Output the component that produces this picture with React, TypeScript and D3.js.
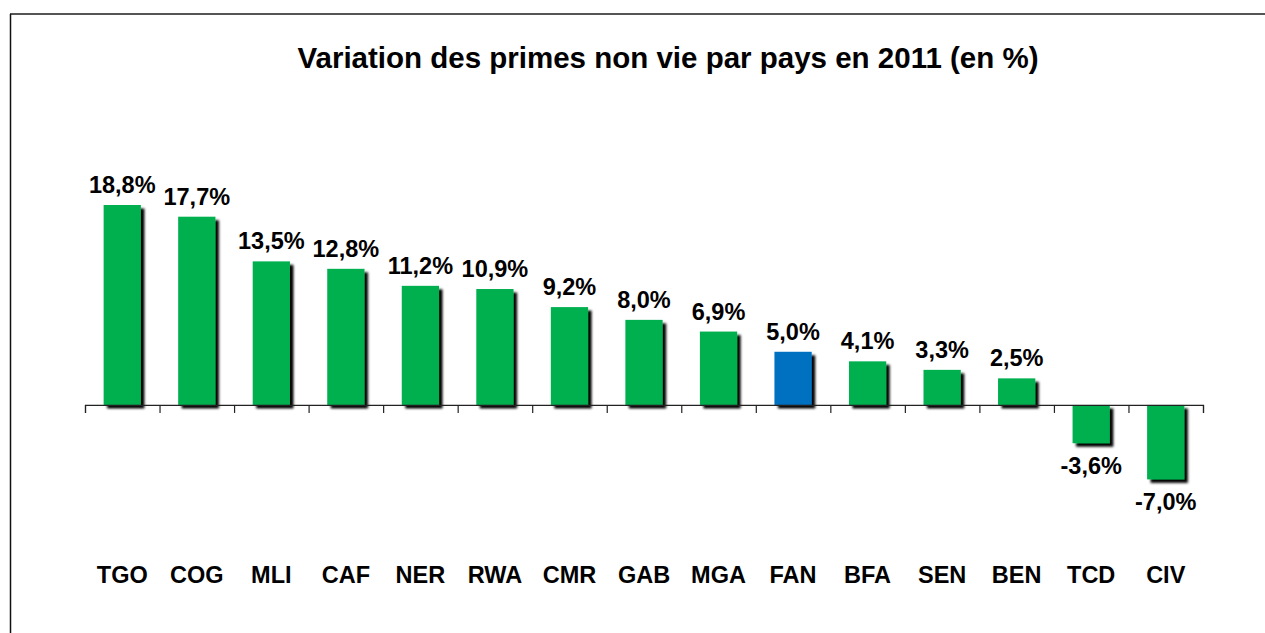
import { scaleBand, scaleLinear, select, axisBottom } from 'd3'
import { useEffect, useRef } from 'react'

const countries = ['TGO', 'COG', 'MLI', 'CAF', 'NER', 'RWA', 'CMR', 'GAB', 'MGA', 'FAN', 'BFA', 'SEN', 'BEN', 'TCD', 'CIV']
const values = [18.8, 17.7, 13.5, 12.8, 11.2, 10.9, 9.2, 8.0, 6.9, 5.0, 4.1, 3.3, 2.5, -3.6, -7.0]
const highlight = ['FAN']

const W = 1265
const H = 633
const green = '#00b050'
const blue = '#0070c0'
const font = '"Liberation Sans", Arial, sans-serif'

const fmt = (v: number) => v.toFixed(1).replace('.', ',') + '%'

export default function App() {
  const svgRef = useRef<SVGSVGElement | null>(null)

  useEffect(() => {
    if (!svgRef.current) return
    const svg = select(svgRef.current)
    svg.selectAll('*').remove()

    const x = scaleBand().domain(countries).range([85, 1203]).paddingInner(0.5).paddingOuter(0.25)
    // zero at y=405, ~10.63 px per point
    const y = scaleLinear().domain([-7, 18.8]).range([479.4, 205])

    const defs = svg.append('defs')
    defs.append('filter')
      .attr('id', 'shadow')
      .attr('x', '-20%').attr('y', '-20%').attr('width', '150%').attr('height', '150%')
      .append('feDropShadow')
      .attr('dx', 3.5).attr('dy', 3.5).attr('stdDeviation', 1)
      .attr('flood-color', '#000').attr('flood-opacity', 1)

    // frame
    svg.append('line').attr('x1', 10).attr('x2', W).attr('y1', 14).attr('y2', 14)
      .attr('stroke', '#555').attr('stroke-width', 2)
    svg.append('line').attr('x1', 10.5).attr('x2', 10.5).attr('y1', 14).attr('y2', H)
      .attr('stroke', '#111').attr('stroke-width', 1.5)

    svg.append('text')
      .attr('x', 668).attr('y', 68)
      .attr('text-anchor', 'middle')
      .attr('font-family', font)
      .attr('font-weight', 'bold')
      .attr('font-size', 29.5)
      .text('Variation des primes non vie par pays en 2011 (en %)')

    svg.append('g')
      .selectAll('rect')
      .data(values)
      .join('rect')
      .attr('x', (_, i) => x(countries[i]) ?? 0)
      .attr('width', x.bandwidth())
      .attr('y', d => y(Math.max(0, d)))
      .attr('height', d => Math.abs(y(d) - y(0)))
      .attr('fill', (_, i) => highlight.includes(countries[i]) ? blue : green)
      .attr('filter', 'url(#shadow)')

    // axis with ticks at band edges
    const edges = scaleLinear().domain([0, countries.length]).range([85, 1203])
    const ax = svg.append('g').attr('transform', `translate(0, ${y(0)})`)
      .call(axisBottom(edges).tickValues(countries.map((_, i) => i).concat([countries.length])).tickSize(8).tickFormat(() => '').tickSizeOuter(8))
    ax.select('.domain').attr('stroke', '#222').attr('stroke-width', 1.2)
    ax.selectAll('.tick line').attr('stroke', '#222').attr('stroke-width', 1.2)

    svg.append('g')
      .selectAll('text')
      .data(values)
      .join('text')
      .attr('x', (_, i) => (x(countries[i]) ?? 0) + x.bandwidth() / 2)
      .attr('y', d => d >= 0 ? y(d) - 12 : y(d) + 31)
      .attr('text-anchor', 'middle')
      .attr('font-family', font)
      .attr('font-weight', 'bold')
      .attr('font-size', 23.5)
      .text(d => fmt(d))

    svg.append('g')
      .selectAll('text')
      .data(countries)
      .join('text')
      .attr('x', d => (x(d) ?? 0) + x.bandwidth() / 2)
      .attr('y', 583)
      .attr('text-anchor', 'middle')
      .attr('font-family', font)
      .attr('font-weight', 'bold')
      .attr('font-size', 23.5)
      .text(d => d)
  }, [])

  return (
    <svg
      ref={svgRef}
      width={W}
      height={H}
      style={{ position: 'absolute', left: 0, top: 0, background: '#fff' }}
    />
  )
}
